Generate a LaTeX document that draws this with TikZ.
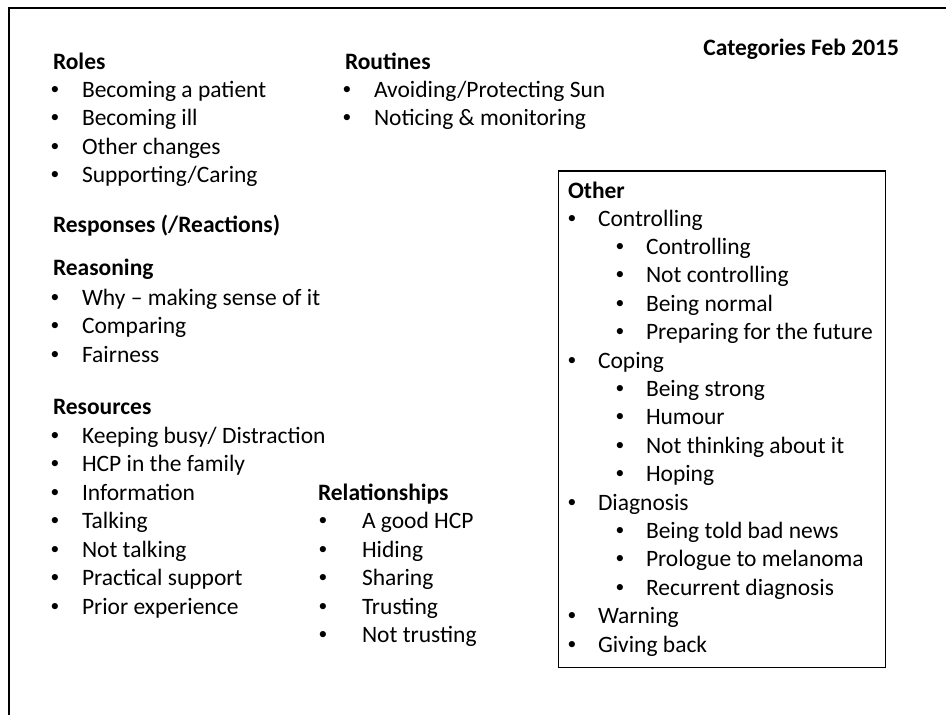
\documentclass[tikz,border=0pt]{standalone}
\usepackage{fontspec}
\setmainfont{Carlito}
\newcommand\myitem[5]{\node[bul] (#1b) at (#2,#4-2.9) {•}; \node[txt] (#1) at (#3,#4) {#5};}
\begin{document}
\begin{tikzpicture}[x=1pt,y=-1pt,
  txt/.style={anchor=base west,inner sep=0pt,outer sep=0pt,font=\fontsize{23.5}{28}\selectfont},
  head/.style={txt,font=\fontsize{23.5}{28}\selectfont\bfseries},
  bul/.style={anchor=base,inner sep=0pt,outer sep=0pt,font=\fontsize{17.5}{20}\selectfont}]
\useasboundingbox (0,0) rectangle (946,715);
\draw[line width=2pt] (946,7.7) -- (9.3,7.7) -- (9.3,715);

% Roles
\node[head] (roles) at (53,69) {Roles};
\myitem{ro1}{55}{82}{97}{Becoming a patient}
\myitem{ro2}{55}{82}{125.5}{Becoming ill}
\myitem{ro3}{55}{82}{154}{Other changes}
\myitem{ro4}{55}{82}{182.5}{Supporting/Caring}

% Routines
\node[head] (routines) at (345,69) {Routines};
\myitem{rt1}{347}{374}{97}{Avoiding/Protecting Sun}
\myitem{rt2}{347}{374}{125.5}{Noticing \& monitoring}

% Title
\node[head,anchor=base east] (title) at (899,55) {Categories Feb 2015};

% Responses
\node[head] (responses) at (53,232) {Responses (/Reactions)};

% Reasoning
\node[head] (reasoning) at (53,275) {Reasoning};
\myitem{rs1}{55}{82}{305}{Why – making sense of it}
\myitem{rs2}{55}{82}{333.5}{Comparing}
\myitem{rs3}{55}{82}{362}{Fairness}

% Resources
\node[head] (resources) at (53,414) {Resources};
\myitem{rc1}{55}{82}{443}{Keeping busy/ Distraction}
\myitem{rc2}{55}{82}{471.5}{HCP in the family}
\myitem{rc3}{55}{82}{500}{Information}
\myitem{rc4}{55}{82}{528.5}{Talking}
\myitem{rc5}{55}{82}{557}{Not talking}
\myitem{rc6}{55}{82}{585.5}{Practical support}
\myitem{rc7}{55}{82}{614}{Prior experience}

% Relationships
\node[head] (relationships) at (318,500) {Relationships};
\myitem{rl1}{323}{362}{528.5}{A good HCP}
\myitem{rl2}{323}{362}{557}{Hiding}
\myitem{rl3}{323}{362}{585.5}{Sharing}
\myitem{rl4}{323}{362}{614}{Trusting}
\myitem{rl5}{323}{362}{642.5}{Not trusting}

% Other box
\node[draw,line width=1.2pt,minimum width=327pt,minimum height=496.5pt,inner sep=0pt] (otherbox) at (722,419.25) {};
\node[head] (other) at (568,198) {Other};
\myitem{o1}{572}{598}{226}{Controlling}
\myitem{o2}{620}{646}{254.4}{Controlling}
\myitem{o3}{620}{646}{282.8}{Not controlling}
\myitem{o4}{620}{646}{311.2}{Being normal}
\myitem{o5}{620}{646}{339.6}{Preparing for the future}
\myitem{o6}{572}{598}{368}{Coping}
\myitem{o7}{620}{646}{396.4}{Being strong}
\myitem{o8}{620}{646}{424.8}{Humour}
\myitem{o9}{620}{646}{453.2}{Not thinking about it}
\myitem{o10}{620}{646}{481.6}{Hoping}
\myitem{o11}{572}{598}{510}{Diagnosis}
\myitem{o12}{620}{646}{538.4}{Being told bad news}
\myitem{o13}{620}{646}{566.8}{Prologue to melanoma}
\myitem{o14}{620}{646}{595.2}{Recurrent diagnosis}
\myitem{o15}{572}{598}{623.6}{Warning}
\myitem{o16}{572}{598}{652}{Giving back}
\end{tikzpicture}
\end{document}
